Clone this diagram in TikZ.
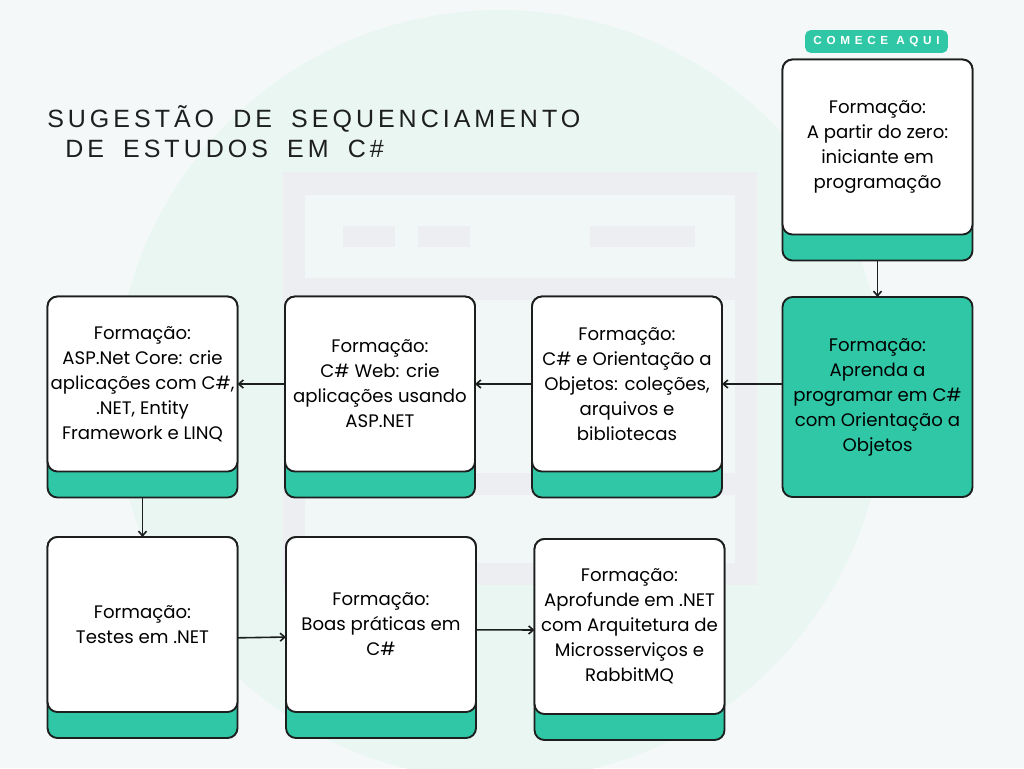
\documentclass[tikz,border=0pt]{standalone}
\usepackage{fontspec}
\setmainfont{Poppins}
\newfontfamily\titlefont[LetterSpace=16, WordSpace=1.75]{Liberation Sans}
\newfontfamily\badgefont[LetterSpace=40]{Liberation Sans}
\usetikzlibrary{positioning,arrows.meta,backgrounds}

\definecolor{pagebg}{HTML}{F5F8F9}
\definecolor{halo}{HTML}{EAF6F2}
\definecolor{iconbg}{HTML}{ECEEF1}
\definecolor{iconin}{HTML}{F1F6F6}
\definecolor{cardteal}{HTML}{2FC7A5}
\definecolor{ink}{HTML}{1C1F1E}

\begin{document}
\begin{tikzpicture}[
    x=0.75pt, y=-0.75pt,
    card/.style={rectangle, draw=ink, line width=1.4pt, fill=white, rounded corners=7.5pt, outer sep=0pt, minimum width=142.5pt, minimum height=131.25pt, align=center, inner sep=1pt, font=\fontsize{13.6}{18.75}\selectfont},
    base/.style={draw=ink, line width=1.4pt, fill=cardteal, rounded corners=7.5pt},
    badge/.style={rectangle, fill=cardteal, rounded corners=4pt, minimum width=107pt, minimum height=17pt, text=white, font=\badgefont\bfseries\fontsize{8.8}{10}\selectfont},
    heading/.style={anchor=base west, inner sep=0pt, text=ink, font=\titlefont\fontsize{18.75}{22}\selectfont},
    arrow/.style={-{Straight Barb[length=3.5pt,width=6pt]}, line width=1.2pt, ink},
]
    \useasboundingbox (0,0) rectangle (1024,768);

    % Backdrop
    \begin{scope}[on background layer]
        \fill[pagebg] (0,0) rectangle (1024,768);
        \fill[halo] (500,395) circle[radius=288.75pt];
        \fill[iconbg] (283,172) rectangle (757,585);
        \fill[iconin] (305,195) rectangle (735,278);
        \fill[iconin] (305,300) rectangle (735,473);
        \fill[iconin] (305,495) rectangle (735,563);
        \fill[iconbg] (343,226) rectangle (395,247);
        \fill[iconbg] (418,226) rectangle (470,247);
        \fill[iconbg] (590,226) rectangle (695,247);
    \end{scope}

    % Title
    \node[heading] (title1) at (47,127) {SUGESTÃO DE SEQUENCIAMENTO};
    \node[heading] (title2) at (65,157) {DE ESTUDOS EM C\#};

    % Start
    \node[badge] (comece) at (876.5,41.5) {COMECE AQUI};
    \node[card] (start) at (877.5,147) {Formação:\\A partir do zero:\\iniciante em\\programação};
    \node[card, fill=cardteal, minimum height=150pt] (aprenda) at (877.5,397) {Formação:\\Aprenda a\\programar em C\#\\com Orientação a\\Objetos};

    % Middle row
    \node[card] (oo) at (627,384) {Formação:\\C\# e Orientação a\\Objetos: coleções,\\arquivos e\\bibliotecas};
    \node[card] (web) at (380,384) {Formação:\\C\# Web: crie\\aplicações usando\\ASP.NET};
    \node[card] (aspnet) at (142.5,384) {Formação:\\ASP.Net Core: crie\\aplicações com C\#,\\.NET, Entity\\Framework e LINQ};

    % Bottom row
    \node[card] (testes) at (142.5,624.5) {Formação:\\Testes em .NET};
    \node[card] (boas) at (381,624.5) {Formação:\\Boas práticas em\\C\#};
    \node[card] (aprofunde) at (629.5,626.5) {Formação:\\Aprofunde em .NET\\com Arquitetura de\\Microsserviços e\\RabbitMQ};

    % Teal strips under the white cards
    \begin{scope}[on background layer]
        \foreach \n in {start,oo,web,aspnet,testes,boas,aprofunde}
            \draw[base] (\n.north west) rectangle ([yshift=-19.5pt]\n.south east);
    \end{scope}

    % Arrows
    \draw[arrow] ([yshift=-19.5pt]start.south) -- (aprenda.north);
    \draw[arrow] (aprenda.west |- oo.east) -- (oo.east);
    \draw[arrow] (oo.west) -- (web.east);
    \draw[arrow] (web.west) -- (aspnet.east);
    \draw[arrow] ([yshift=-19.5pt]aspnet.south) -- (testes.north);
    \draw[arrow] ([yshift=-10pt]testes.east) -- ([yshift=-9.4pt]boas.west);
    \draw[arrow] ([yshift=-4pt]boas.east) -- ([yshift=-2.6pt]aprofunde.west);
\end{tikzpicture}
\end{document}
